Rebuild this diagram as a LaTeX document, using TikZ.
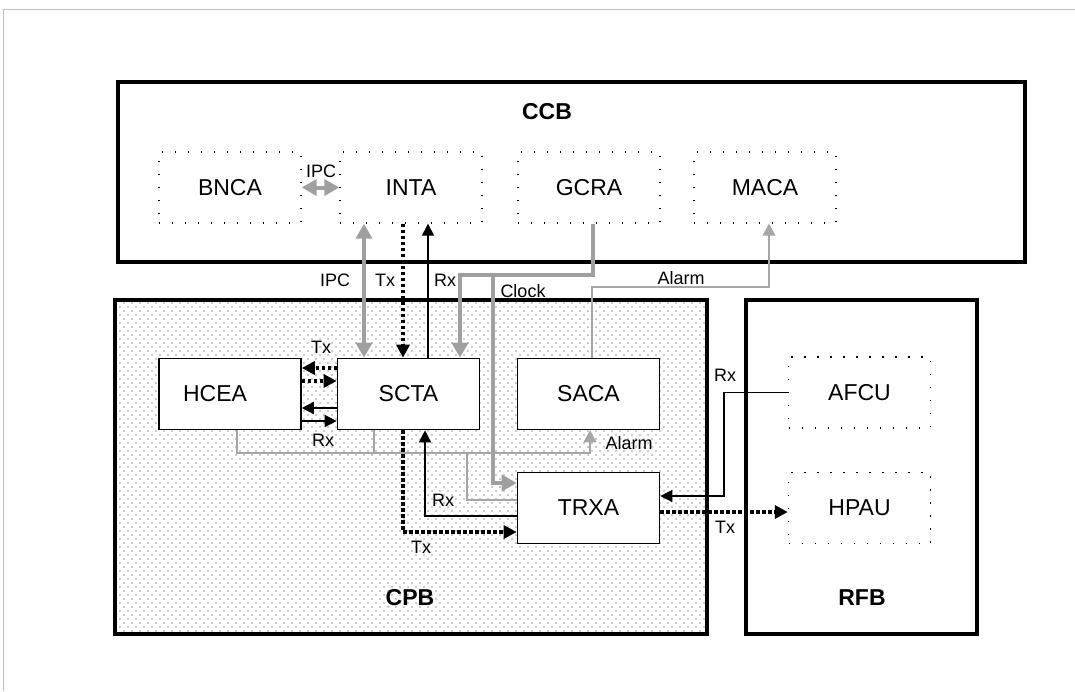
\documentclass[tikz,border=0pt]{standalone}
\usepackage{fontspec}
\setmainfont{Liberation Sans}
\usetikzlibrary{arrows.meta,patterns}

\pgfdeclarepatternformonly{cpbdots}{\pgfqpoint{-1pt}{-1pt}}{\pgfqpoint{5pt}{5pt}}{\pgfqpoint{4pt}{4pt}}{%
  \pgfpathcircle{\pgfqpoint{0pt}{0pt}}{0.6pt}%
  \pgfpathcircle{\pgfqpoint{2pt}{2pt}}{0.6pt}%
  \pgfusepath{fill}}

\tikzset{
  blk/.style={draw, fill=white, line width=0.8pt, minimum width=71pt, minimum height=35.5pt,
    inner sep=0pt, font=\fontsize{11.5}{13}\selectfont},
  swbox/.style={blk, fill=none, line width=0.7pt, dash pattern=on 0.7pt off 5.8pt},
  grp/.style={draw, line width=1.6pt},
  title/.style={font=\fontsize{11.5}{13}\selectfont\bfseries},
  lbl/.style={font=\fontsize{9}{10}\selectfont, inner sep=0pt},
  sig/.style={line width=0.7pt, -{Triangle[length=6pt,width=6pt]}},
  dsig/.style={line width=1.6pt, dash pattern=on 1.6pt off 1.4pt, -{Triangle[length=6.5pt,width=6.5pt]}},
  gsig/.style={line width=2pt, gray!75, -{Triangle[length=7.5pt,width=8pt]}},
  gsigb/.style={gsig, {Triangle[length=7.5pt,width=8pt]}-{Triangle[length=7.5pt,width=8pt]}},
  alm/.style={line width=0.6pt, gray!70, -{Triangle[length=6pt,width=6.5pt]}}
}

\begin{document}
\begin{tikzpicture}[x=0.5pt, y=-0.5pt]
  \useasboundingbox (0,0) rectangle (1075,691);
  \draw[gray!50, line width=0.6pt] (3.5,691) -- (3.5,9.5) -- (1075,9.5);

  % boards
  \draw[grp] (118,82) rectangle (1025,262);
  \draw[grp, pattern=cpbdots, pattern color=gray!55] (115,300) rectangle (707,634);
  \draw[grp] (746,300) rectangle (977,634);
  \node[title] (ccb) at (547,112) {CCB};
  \node[title] (cpb) at (410,598) {CPB};
  \node[title] (rfb) at (862,598) {RFB};

  % CCB software
  \node[swbox] (bnca) at (230,187.5) {BNCA};
  \node[swbox] (inta) at (411,187.5) {INTA};
  \node[swbox] (gcra) at (589,187.5) {GCRA};
  \node[swbox] (maca) at (765,187.5) {MACA};

  % CPB blocks
  \node[blk] (hcea) at (230,394) {\hspace*{-15pt}HCEA};
  \node[blk] (scta) at (408.5,394) {SCTA};
  \node[blk] (saca) at (588.5,394) {SACA};
  \node[blk] (trxa) at (588.5,508) {TRXA};

  % RFB units
  \node[swbox] (afcu) at (859.5,392.5) {AFCU};
  \node[swbox] (hpau) at (859.5,508) {HPAU};

  % CCB <-> CPB
  \draw[gsigb] (bnca.east) -- (inta.west);
  \draw[gsigb] (364,0 |- inta.south) -- (364,0 |- scta.north);
  \draw[dsig] (403,0 |- inta.south) -- (403,0 |- scta.north);
  \draw[sig] (428,0 |- scta.north) -- (428,0 |- inta.south);
  \draw[gsig] (593,0 |- gcra.south) |- (460,275) -- (460,0 |- scta.north);
  \draw[gsig] (493,275) |- (trxa.west |- 0,483);
  \draw[alm] (592,0 |- saca.north) |- (769,287) -- (769,0 |- maca.south);

  % HCEA <-> SCTA
  \draw[dsig] (scta.west |- 0,368) -- (hcea.east |- 0,368);
  \draw[dsig] (hcea.east |- 0,381) -- (scta.west |- 0,381);
  \draw[sig] (scta.west |- 0,408) -- (hcea.east |- 0,408);
  \draw[sig] (hcea.east |- 0,421) -- (scta.west |- 0,421);

  % alarm bus
  \draw[alm] (237,0 |- hcea.south) |- (590,453) -- (590,0 |- saca.south);
  \draw[alm, -] (374,0 |- scta.south) -- (374,453);
  \draw[alm, -] (trxa.west |- 0,500) -| (467,453);

  % SCTA <-> TRXA
  \draw[sig] (trxa.west |- 0,516) -| (425,0 |- scta.south);
  \draw[dsig] (403,0 |- scta.south) |- (trxa.west |- 0,532);

  % TRXA <-> RFB
  \draw[sig] (afcu.west) -| (724,496) -- (trxa.east |- 0,496);
  \draw[dsig] (trxa.east |- 0,512) -- (hpau.west |- 0,512);

  % labels
  \node[lbl] (l-ipc1) at (321,171) {IPC};
  \node[lbl] (l-ipc2) at (335,280) {IPC};
  \node[lbl] (l-tx1) at (385,280) {Tx};
  \node[lbl] (l-rx1) at (445,280) {Rx};
  \node[lbl] (l-clk) at (523,291) {Clock};
  \node[lbl] (l-alm1) at (681,278) {Alarm};
  \node[lbl] (l-tx2) at (321,347) {Tx};
  \node[lbl] (l-rx2) at (323,440) {Rx};
  \node[lbl] (l-alm2) at (629,443) {Alarm};
  \node[lbl] (l-rx3) at (443,500) {Rx};
  \node[lbl] (l-tx3) at (421,547) {Tx};
  \node[lbl] (l-rx4) at (725,375) {Rx};
  \node[lbl] (l-tx4) at (725,527) {Tx};
\end{tikzpicture}
\end{document}
